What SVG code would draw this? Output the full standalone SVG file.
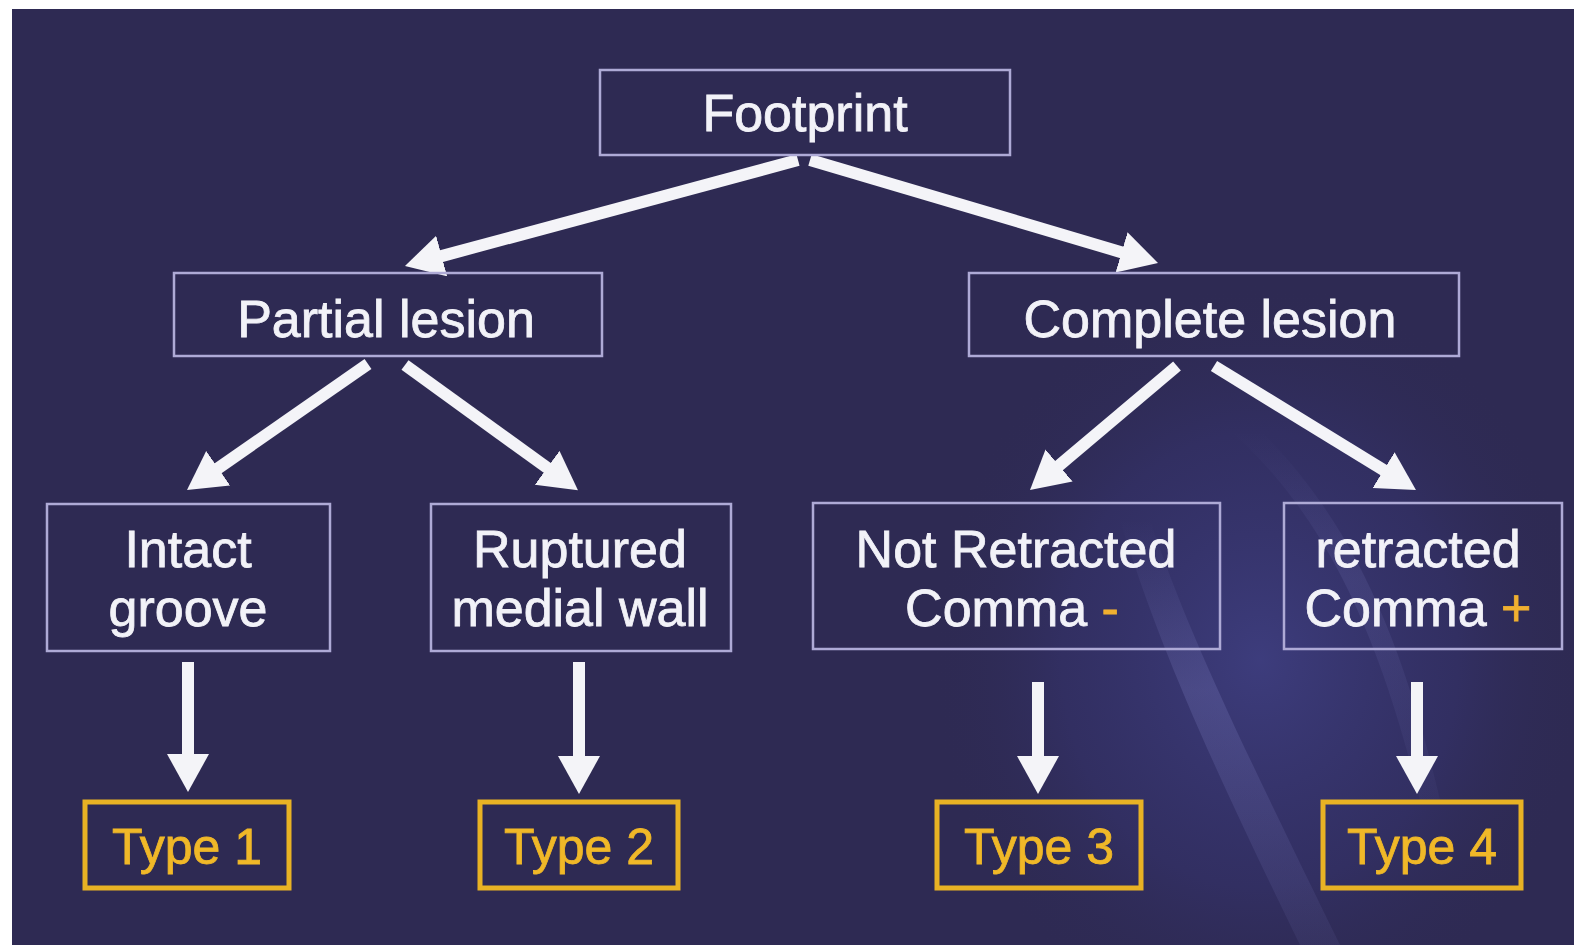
<svg xmlns="http://www.w3.org/2000/svg" width="1574" height="945" viewBox="0 0 1574 945">
  <defs>
    <radialGradient id="glow" cx="0.5" cy="0.5" r="0.5">
      <stop offset="0" stop-color="#4c4fa6" stop-opacity="0.5"/>
      <stop offset="0.6" stop-color="#3c3c88" stop-opacity="0.28"/>
      <stop offset="1" stop-color="#2e2a53" stop-opacity="0"/>
    </radialGradient>
    <linearGradient id="streak" x1="0" y1="0" x2="0" y2="1">
      <stop offset="0" stop-color="#8a8cd0" stop-opacity="0"/>
      <stop offset="0.4" stop-color="#8a8cd0" stop-opacity="0.22"/>
      <stop offset="1" stop-color="#8a8cd0" stop-opacity="0.08"/>
    </linearGradient>
    <marker id="head" markerUnits="userSpaceOnUse" markerWidth="40" markerHeight="44" refX="4" refY="21" orient="auto">
      <path d="M0,0 L38,21 L0,42 z" fill="#f4f4f8"/>
    </marker>
    <style>
      .box { fill: none; stroke: #aeaad6; stroke-width: 2.5; }
      .ybox { fill: none; stroke: #e8b224; stroke-width: 5; }
      .t { font-family: "Liberation Sans", Arial, sans-serif; font-size: 52px; fill: #f2f2f8; stroke: #f2f2f8; stroke-width: 0.8; text-anchor: middle; }
      .yt { font-family: "Liberation Sans", Arial, sans-serif; font-size: 50px; fill: #f0b828; stroke: #f0b828; stroke-width: 0.8; text-anchor: middle; }
      .acc { fill: #f0b030; stroke: #f0b030; }
      .arr { stroke: #f4f4f8; stroke-width: 12; fill: none; marker-end: url(#head); }
    </style>
  </defs>
  <rect x="0" y="0" width="1574" height="945" fill="#ffffff"/>
  <rect x="12" y="9" width="1562" height="936" fill="#2e2a53"/>
  <ellipse cx="1260" cy="660" rx="330" ry="380" fill="url(#glow)"/>
  <path d="M1120,520 C1160,650 1210,760 1300,945 L1340,945 C1250,760 1190,640 1150,520 z" fill="url(#streak)"/>
  <path d="M1230,430 C1330,520 1380,640 1420,800 L1440,800 C1400,630 1350,520 1260,430 z" fill="url(#streak)" opacity="0.6"/>

  <g id="connectors">
    <line class="arr" x1="798" y1="160" x2="437.8" y2="257.1"/>
    <line class="arr" x1="810" y1="160" x2="1125.4" y2="253.4"/>
    <line class="arr" x1="368" y1="364" x2="214.9" y2="470.5"/>
    <line class="arr" x1="405" y1="365" x2="550.4" y2="470.2"/>
    <line class="arr" x1="1177" y1="366" x2="1056" y2="468.1"/>
    <line class="arr" x1="1214" y1="366" x2="1387" y2="472.2"/>
    <line class="arr" x1="188" y1="662" x2="188" y2="758"/>
    <line class="arr" x1="579" y1="662" x2="579" y2="760"/>
    <line class="arr" x1="1038" y1="682" x2="1038" y2="760"/>
    <line class="arr" x1="1417" y1="682" x2="1417" y2="760"/>
  </g>

  <g id="footprint">
    <rect class="box" x="600" y="70" width="410" height="85"/>
    <text class="t" x="805" y="131">Footprint</text>
  </g>
  <g id="partial">
    <rect class="box" x="174" y="273" width="428" height="83"/>
    <text class="t" x="386" y="337">Partial lesion</text>
  </g>
  <g id="complete">
    <rect class="box" x="969" y="273" width="490" height="83"/>
    <text class="t" x="1210" y="337">Complete lesion</text>
  </g>
  <g id="intact">
    <rect class="box" x="47" y="504" width="283" height="147"/>
    <text class="t" x="188" y="567">Intact</text>
    <text class="t" x="188" y="626">groove</text>
  </g>
  <g id="ruptured">
    <rect class="box" x="431" y="504" width="300" height="147"/>
    <text class="t" x="580" y="567">Ruptured</text>
    <text class="t" x="580" y="626">medial wall</text>
  </g>
  <g id="notretracted">
    <rect class="box" x="813" y="503" width="407" height="146"/>
    <text class="t" x="1016" y="567">Not Retracted</text>
    <text class="t" x="1012" y="626">Comma <tspan class="acc">-</tspan></text>
  </g>
  <g id="retracted">
    <rect class="box" x="1284" y="503" width="278" height="146"/>
    <text class="t" x="1418" y="567">retracted</text>
    <text class="t" x="1418" y="626">Comma <tspan class="acc">+</tspan></text>
  </g>
  <g id="type1">
    <rect class="ybox" x="85" y="802" width="204" height="86"/>
    <text class="yt" x="187" y="864">Type 1</text>
  </g>
  <g id="type2">
    <rect class="ybox" x="480" y="802" width="198" height="86"/>
    <text class="yt" x="579" y="864">Type 2</text>
  </g>
  <g id="type3">
    <rect class="ybox" x="937" y="802" width="204" height="86"/>
    <text class="yt" x="1039" y="864">Type 3</text>
  </g>
  <g id="type4">
    <rect class="ybox" x="1323" y="802" width="198" height="86"/>
    <text class="yt" x="1422" y="864">Type 4</text>
  </g>
</svg>
